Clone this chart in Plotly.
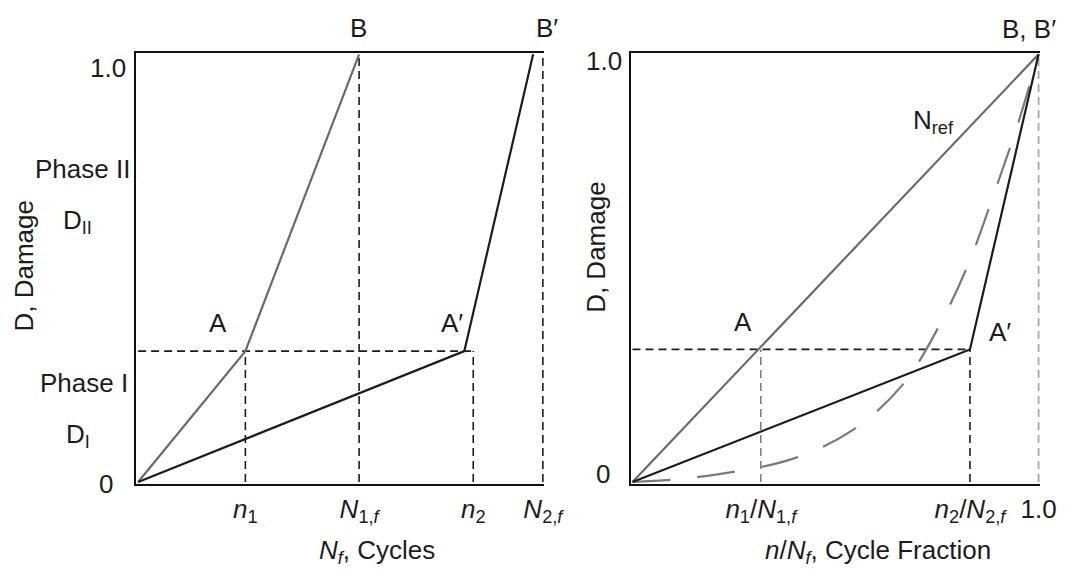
import plotly.graph_objects as go

W, H = 1090, 572

# ---------------- data (left panel: Nf, cycles, normalised by N2,f) ----------------
left_tick_vals = [0.265, 0.546, 0.828, 1.0]
left_tick_text = ["<i>n</i><sub>1</sub>", "<i>N</i><sub>1,<i>f</i></sub>",
                  "<i>n</i><sub>2</sub>", "<i>N</i><sub>2,<i>f</i></sub>"]
n1, N1f, n2, N2f = left_tick_vals
D_A = 0.306                      # damage at knee points A and A'
path1_x = [0.0, n1, N1f]         # O -> A -> B
path1_y = [0.0, D_A, 1.0]
path2_x = [0.0, 0.806, 0.976]    # O -> A' -> B'
path2_y = [0.0, D_A, 1.0]

# ---------------- data (right panel: cycle fraction) ----------------
right_tick_vals = [0.316, 0.831, 1.0]
right_tick_text = ["<i>n</i><sub>1</sub>/<i>N</i><sub>1,<i>f</i></sub>",
                   "<i>n</i><sub>2</sub>/<i>N</i><sub>2,<i>f</i></sub>", "1.0"]
r1, r2, r3 = right_tick_vals
D_Ar = 0.31
ref_x = [0.0, 1.0]
ref_y = [0.0, 1.0]
seq_x = [0.0, r2, 1.0]
seq_y = [0.0, D_Ar, 1.0]
curve_x = [0.0, 0.095, 0.217, 0.394, 0.54, 0.665, 0.758, 0.831, 0.889, 0.947, 1.0]
curve_y = [0.0, 0.005, 0.019, 0.054, 0.12, 0.227, 0.37, 0.519, 0.671, 0.831, 1.0]

y_tick_vals = [0.0, 1.0]
y_tick_text = ["0", "1.0"]

# ---------------- styles ----------------
FONT = "Liberation Sans, Arial, Helvetica, sans-serif"
FS = 26
DARK = "#1c1c1c"
GRAY = "#6a6a6a"
LGRAY = "#a8a8a8"
SHORT = "8px,5px"

fig = go.Figure()

def line(x, y, color, width=2, dash=None, ax="", shape="linear"):
    fig.add_trace(go.Scatter(
        x=x, y=y, mode="lines", xaxis="x" + ax, yaxis="y" + ax,
        line=dict(color=color, width=width, dash=dash, shape=shape),
        hoverinfo="skip", showlegend=False))

# left panel
line([0, n2], [D_A, D_A], DARK, 1.6, SHORT)
line([n1, n1], [0, D_A], DARK, 1.6, SHORT)
line([N1f, N1f], [0, 1], DARK, 1.6, SHORT)
line([n2, n2], [0, D_A], DARK, 1.6, SHORT)
line([N2f, N2f], [0, 1], DARK, 1.6, SHORT)
line(path1_x, path1_y, GRAY, 2.2)
line(path2_x, path2_y, DARK, 2.2)

# right panel
line([0, r2], [D_Ar, D_Ar], DARK, 1.6, SHORT, ax="2")
line([r1, r1], [0, D_Ar], "#808080", 1.6, SHORT, ax="2")
line([r2, r2], [0, D_Ar], DARK, 1.6, SHORT, ax="2")
line([r3, r3], [0, 1], LGRAY, 1.8, SHORT, ax="2")
line(curve_x, curve_y, "#7a7a7a", 2.2, "38px,27px", ax="2", shape="spline")
line(ref_x, ref_y, GRAY, 2.2, ax="2")
line(seq_x, seq_y, DARK, 2.2, ax="2")

pad = 0.004
# pixel geometry of data range 0..1
LX0, LX1 = 140.7, 553.0
RX0, RX1 = 644.3, 1058.0
YT, YB = 54.3, 482.0

def xdom(a, b):
    p = (b - a) * pad
    return [(a - p) / W, (b + p) / W]

p_y = (YB - YT) * pad
ydom = [(H - (YB + p_y)) / H, (H - (YT - p_y)) / H]

axis_common = dict(showgrid=False, zeroline=False, showline=True, linecolor="#111111",
                   linewidth=2, ticks="", range=[-pad, 1 + pad], fixedrange=True,
                   tickfont=dict(family=FONT, size=FS, color=DARK))

fig.update_layout(
    width=W, height=H, margin=dict(l=0, r=0, t=0, b=0),
    paper_bgcolor="white", plot_bgcolor="white",
    font=dict(family=FONT, size=FS, color=DARK),
    xaxis=dict(axis_common, domain=xdom(LX0, LX1), anchor="y", mirror=True,
               tickvals=left_tick_vals, ticktext=left_tick_text, ticklabelstandoff=1),
    yaxis=dict(axis_common, domain=ydom, anchor="x", showticklabels=False),
    xaxis2=dict(axis_common, domain=xdom(RX0, RX1), anchor="y2", mirror=True,
                tickvals=right_tick_vals, ticktext=right_tick_text, ticklabelstandoff=1),
    yaxis2=dict(axis_common, domain=ydom, anchor="x2", showticklabels=False),
)

def px(x, y):
    return x / W, 1 - y / H

annots = [
    # (text, x_px, y_px, angle)
    ("B", 365, 28, 0), ("B\u2032", 557, 28, 0),
    ("A", 222, 323, 0), ("A\u2032", 460, 323, 0),
    ("Phase II", 84, 169, 0), ("D<sub>II</sub>", 79, 221, 0),
    ("Phase I", 86, 383, 0), ("D<sub>I</sub>", 79, 435, 0),
    ("D, Damage", 24, 266, -90),
    ("<i>N</i><sub><i>f</i></sub>, Cycles", 384, 551, 0),
    ("B, B\u2032", 1048, 29, 0), ("N<sub>ref</sub>", 951, 121, 0),
    ("A", 757, 322, 0), ("A\u2032", 1019, 332, 0),
    ("D, Damage", 607, 247, -90),
    ("<i>n</i>/<i>N</i><sub><i>f</i></sub>, Cycle Fraction", 894, 551, 0),
]
# y tick labels (placed beside each panel's axis)
ytick_pos = [(108, 484), (110, 68), (614, 474), (615, 61)]
for (xp, yp), t in zip(ytick_pos, y_tick_text * 2):
    annots.append((t, xp, yp, 0))

for t, xp, yp, ang in annots:
    ax_, ay_ = px(xp, yp)
    fig.add_annotation(text=t, x=ax_, y=ay_, xref="paper", yref="paper",
                       showarrow=False, xanchor="center", yanchor="middle",
                       textangle=ang, font=dict(family=FONT, size=FS, color=DARK))

fig.write_html("out.html")
